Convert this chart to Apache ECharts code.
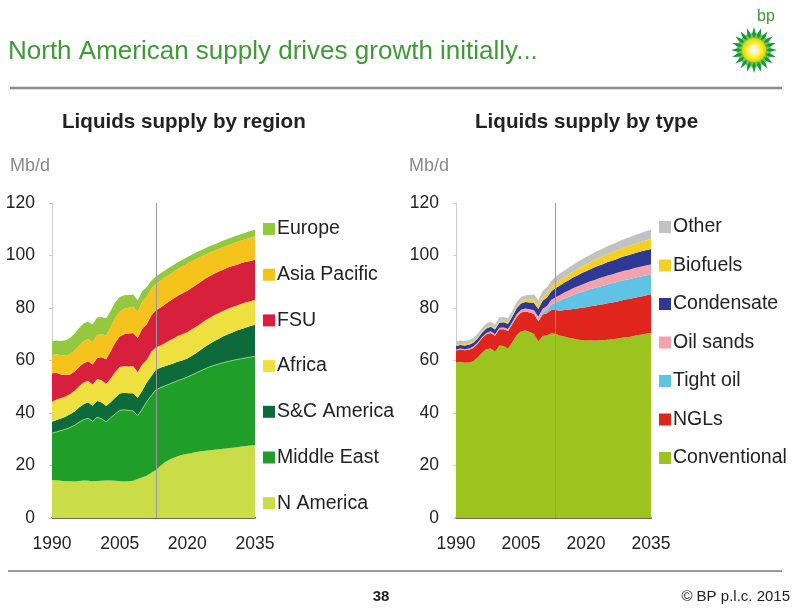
<!DOCTYPE html>
<html>
<head>
<meta charset="utf-8">
<script src="https://cdn.jsdelivr.net/npm/echarts@6.0.0/dist/echarts.min.js"></script>
<style>
  html, body { margin: 0; padding: 0; background: #ffffff; }
  #chart { width: 795px; height: 608px; }
</style>
</head>
<body>
<div id="chart"></div>
<script>
// Years 1990-2013 are history, 2014-2035 the outlook
const years = ['1990','1991','1992','1993','1994','1995','1996','1997','1998','1999',
  '2000','2001','2002','2003','2004','2005','2006','2007','2008','2009',
  '2010','2011','2012','2013','2014','2015','2016','2017','2018','2019',
  '2020','2021','2022','2023','2024','2025','2026','2027','2028','2029',
  '2030','2031','2032','2033','2034','2035'];
const xTickYears = ['1990', '2005', '2020', '2035'];
const outlookStart = '2013';

// Liquids supply by region, Mb/d
const nAmerica = [14.5,14.4,14.2,14.0,14.0,13.9,14.1,14.3,14.2,14.0,14.1,14.2,14.3,14.3,14.2,14.0,13.9,14.0,14.2,14.9,15.5,16.1,17.2,18.3,
  19.8,21.2,22.2,23.0,23.6,24.1,24.5,24.8,25.1,25.4,25.6,25.8,26.0,26.2,26.4,26.6,26.8,27.0,27.2,27.4,27.6,27.8];
const middleEast = [17.8,18.4,19.1,19.8,20.5,21.4,22.4,23.1,23.8,22.8,24.3,23.6,22.3,23.9,25.4,27.0,27.3,27.0,26.6,24.1,26.0,28.2,29.4,30.5,
  29.8,29.1,28.8,28.7,28.8,28.9,29.2,29.7,30.2,30.7,31.3,31.8,32.2,32.5,32.8,33.0,33.2,33.4,33.5,33.6,33.7,33.8];
const scAmerica = [4.4,4.5,4.6,4.8,5.0,5.3,5.6,5.9,6.1,6.0,6.2,6.2,6.1,5.9,6.2,6.4,6.5,6.5,6.7,6.8,7.0,7.3,7.4,7.6,
  7.6,7.5,7.4,7.3,7.2,7.1,7.1,7.3,7.6,8.0,8.4,8.8,9.2,9.6,10.0,10.4,10.7,11.0,11.3,11.6,11.8,12.0];
const africa = [7.6,7.8,7.8,7.7,7.7,7.9,8.1,8.3,8.2,8.1,8.4,8.5,8.4,9.0,9.8,10.1,10.2,10.2,10.3,9.8,10.1,8.6,9.3,8.6,
  8.5,8.8,9.2,9.5,9.8,10.0,10.1,10.1,10.1,10.0,10.0,9.9,9.9,9.8,9.8,9.7,9.7,9.6,9.6,9.6,9.5,9.5];
const fsu = [10.8,10.2,9.0,8.2,7.5,7.3,7.3,7.4,7.4,7.6,8.0,8.7,9.4,10.4,11.2,11.6,12.1,12.6,12.7,13.0,13.5,13.6,13.8,14.1,
  14.4,14.7,15.0,15.2,15.4,15.6,15.7,15.8,15.9,15.9,15.9,15.9,15.8,15.8,15.7,15.7,15.6,15.5,15.5,15.4,15.3,15.3];
const asiaPacific = [7.0,7.1,7.3,7.5,7.7,8.0,8.2,8.4,8.5,8.5,8.7,8.8,9.0,9.2,9.4,9.5,9.7,9.8,10.0,10.1,10.4,10.5,10.2,10.0,
  10.2,10.3,10.1,10.2,10.1,10.3,10.3,10.1,9.8,9.5,9.1,8.9,8.7,8.6,8.5,8.5,8.5,8.6,8.6,8.7,8.9,8.9];
const europe = [5.1,5.2,5.4,5.7,6.2,6.4,6.7,6.7,6.6,6.7,6.7,6.6,6.6,6.3,6.0,5.6,5.2,4.9,4.6,4.3,4.0,3.6,3.1,2.8,
  2.8,2.7,2.7,2.6,2.6,2.5,2.5,2.5,2.5,2.5,2.5,2.5,2.5,2.5,2.5,2.5,2.5,2.5,2.5,2.5,2.5,2.5];

// Liquids supply by type, Mb/d
const conventional = [59.2,59.5,59.1,59.2,59.7,61.1,63.0,64.3,64.6,63.4,65.7,65.5,64.6,67.0,69.6,71.1,71.4,70.9,70.1,67.2,69.3,69.5,70.4,70.1,
  69.4,69.1,68.7,68.4,68.0,67.8,67.6,67.7,67.6,67.7,67.7,67.9,68.1,68.3,68.6,68.9,69.0,69.3,69.7,69.9,70.3,70.6];
const ngls = [4.6,4.7,4.8,4.9,5.1,5.3,5.5,5.7,5.9,6.0,6.2,6.4,6.6,6.8,7.0,7.2,7.3,7.4,7.6,7.8,8.2,8.5,8.8,9.1,
  9.6,10.1,10.6,11.2,11.8,12.3,12.7,13.0,13.3,13.5,13.7,13.9,14.0,14.1,14.2,14.3,14.4,14.5,14.5,14.6,14.6,14.6];
const tightOil = [0,0,0,0,0,0,0,0,0,0,0,0,0,0,0,0,0,0,0.2,0.4,0.7,1.2,2.1,2.9,
  3.8,4.4,4.9,5.3,5.7,6.0,6.3,6.5,6.7,6.9,7.1,7.2,7.3,7.4,7.5,7.5,7.6,7.6,7.6,7.6,7.6,7.6];
const oilSands = [0.4,0.4,0.4,0.5,0.5,0.5,0.5,0.5,0.6,0.6,0.6,0.7,0.8,0.9,1.0,1.0,1.1,1.2,1.2,1.3,1.5,1.6,1.8,2.0,
  2.2,2.3,2.5,2.6,2.7,2.8,2.9,3.0,3.1,3.2,3.3,3.4,3.4,3.5,3.5,3.6,3.6,3.7,3.7,3.8,3.8,3.8];
const condensate = [1.3,1.3,1.4,1.4,1.5,1.5,1.6,1.7,1.8,1.8,1.9,2.0,2.0,2.1,2.3,2.4,2.5,2.6,2.8,2.9,3.1,3.2,3.3,3.5,
  3.6,3.8,3.9,4.1,4.2,4.4,4.5,4.6,4.8,4.9,5.0,5.1,5.2,5.3,5.4,5.5,5.6,5.7,5.7,5.8,5.8,5.9];
const biofuels = [0.4,0.4,0.4,0.4,0.4,0.4,0.4,0.4,0.4,0.4,0.4,0.4,0.5,0.5,0.6,0.7,0.8,1.0,1.3,1.4,1.6,1.7,1.7,1.9,
  2.0,2.1,2.2,2.3,2.4,2.5,2.6,2.7,2.8,2.9,3.0,3.1,3.2,3.3,3.3,3.4,3.5,3.5,3.6,3.7,3.7,3.8];
const other = [1.3,1.3,1.3,1.3,1.4,1.4,1.4,1.5,1.5,1.5,1.6,1.6,1.6,1.7,1.7,1.8,1.8,1.9,1.9,2.0,2.1,2.2,2.3,2.4,
  2.5,2.5,2.6,2.6,2.7,2.7,2.8,2.8,2.9,2.9,3.0,3.0,3.1,3.1,3.2,3.2,3.3,3.3,3.4,3.4,3.5,3.5];

const FONT = '"Liberation Sans", Arial, Helvetica, sans-serif';
const TEXT = '#222222';

// bottom-to-top stacking order
const regionSeries = [
  { name: 'N America',    data: nAmerica,    color: '#cadc48' },
  { name: 'Middle East',  data: middleEast,  color: '#1f9e2a', edge: '#8ad27a' },
  { name: 'S&C America',  data: scAmerica,   color: '#0d6b3b' },
  { name: 'Africa',       data: africa,      color: '#eee03e' },
  { name: 'FSU',          data: fsu,         color: '#d81f3c' },
  { name: 'Asia Pacific', data: asiaPacific, color: '#f6c31c' },
  { name: 'Europe',       data: europe,      color: '#95c93d' }
];
const typeSeries = [
  { name: 'Conventional', data: conventional, color: '#9bc41e' },
  { name: 'NGLs',         data: ngls,         color: '#e0251c' },
  { name: 'Tight oil',    data: tightOil,     color: '#5ec3e4' },
  { name: 'Oil sands',    data: oilSands,     color: '#f4a3ad' },
  { name: 'Condensate',   data: condensate,   color: '#2e3895' },
  { name: 'Biofuels',     data: biofuels,     color: '#f3d021' },
  { name: 'Other',        data: other,        color: '#c2c2c2' }
];

function buildStack(list, stack, axis) {
  return list.map(function (s, i) {
    const out = {
      name: s.name, type: 'line', stack: stack,
      xAxisIndex: axis, yAxisIndex: axis,
      data: s.data, symbol: 'none', showSymbol: false, silent: true,
      lineStyle: s.edge ? { width: 1, color: s.edge } : { width: 0 },
      itemStyle: { color: s.color },
      areaStyle: { color: s.color, opacity: 1 },
      emphasis: { disabled: true }
    };
    if (i === 0) {
      out.markLine = {
        silent: true, symbol: ['none', 'none'], label: { show: false },
        lineStyle: { color: '#9a9a9a', width: 1, type: 'solid' },
        data: [{ xAxis: outlookStart }]
      };
    }
    return out;
  });
}

function xAxisFor(grid) {
  return {
    type: 'category', gridIndex: grid, data: years, boundaryGap: false,
    axisLine: { lineStyle: { color: '#6e6b55', width: 2 } },
    axisTick: { show: false },
    axisLabel: {
      interval: function (idx, val) { return xTickYears.indexOf(val) >= 0; },
      fontFamily: FONT, fontSize: 17.5, color: TEXT, margin: 17
    },
    splitLine: { show: false }
  };
}
function yAxisFor(grid) {
  return {
    type: 'value', gridIndex: grid, min: 0, max: 120, interval: 20,
    axisLine: { show: true, lineStyle: { color: '#cfcfcf', width: 1 } },
    axisTick: { show: true, length: 3, lineStyle: { color: '#cfcfcf' } },
    axisLabel: { fontFamily: FONT, fontSize: 17.5, color: TEXT, margin: 17 },
    splitLine: { show: false }
  };
}

function legendFor(list, left, top, gap) {
  return {
    orient: 'vertical', left: left, top: top, itemGap: gap,
    itemWidth: 12, itemHeight: 12, icon: 'rect', selectedMode: false,
    data: list.slice().reverse().map(function (s) { return s.name; }),
    textStyle: { fontFamily: FONT, fontSize: 19.5, color: TEXT, padding: [0, 0, 0, -3] }
  };
}

// bp helios mark
function starPoints(cx, cy, R, r, n, rot) {
  const pts = [];
  for (let k = 0; k < n * 2; k++) {
    const a = rot + Math.PI * k / n;
    const rad = k % 2 === 0 ? R : r;
    pts.push([cx + rad * Math.sin(a), cy - rad * Math.cos(a)]);
  }
  return pts;
}
const LX = 754, LY = 50;

const option = {
  animation: false,
  backgroundColor: '#ffffff',
  grid: [
    { left: 52, top: 203, width: 203, height: 315 },
    { left: 456, top: 203, width: 195, height: 315 }
  ],
  xAxis: [xAxisFor(0), xAxisFor(1)],
  yAxis: [yAxisFor(0), yAxisFor(1)],
  legend: [
    legendFor(regionSeries, 258, 214, 25.7),
    legendFor(typeSeries, 654, 212, 18.5)
  ],
  series: buildStack(regionSeries, 'region', 0).concat(buildStack(typeSeries, 'type', 1)),
  graphic: [
    { type: 'text', x: 8, y: 52, style: { text: 'North American supply drives growth initially...', font: '26px ' + FONT, fill: '#3e9b35', textVerticalAlign: 'middle' } },
    { type: 'line', shape: { x1: 10, y1: 88, x2: 782, y2: 88 }, style: { stroke: '#8e8e8e', lineWidth: 2.5 } },
    { type: 'text', x: 62, y: 122, style: { text: 'Liquids supply by region', font: 'bold 20.6px ' + FONT, fill: TEXT, textVerticalAlign: 'middle' } },
    { type: 'text', x: 475, y: 122, style: { text: 'Liquids supply by type', font: 'bold 20.6px ' + FONT, fill: TEXT, textVerticalAlign: 'middle' } },
    { type: 'text', x: 10, y: 166, style: { text: 'Mb/d', font: '18px ' + FONT, fill: '#8a8a8a', textVerticalAlign: 'middle' } },
    { type: 'text', x: 409, y: 166, style: { text: 'Mb/d', font: '18px ' + FONT, fill: '#8a8a8a', textVerticalAlign: 'middle' } },
    { type: 'line', shape: { x1: 8, y1: 571, x2: 782, y2: 571 }, style: { stroke: '#9a9a9a', lineWidth: 2 } },
    { type: 'text', x: 381, y: 597, style: { text: '38', font: 'bold 15px ' + FONT, fill: TEXT, textAlign: 'center', textVerticalAlign: 'middle' } },
    { type: 'text', x: 790, y: 597, style: { text: '© BP p.l.c. 2015', font: '15px ' + FONT, fill: TEXT, textAlign: 'right', textVerticalAlign: 'middle' } },
    { type: 'polygon', shape: { points: starPoints(LX, LY, 23, 15, 20, 0) }, style: { fill: '#0f9b3e' } },
    { type: 'polygon', shape: { points: starPoints(LX, LY, 18, 12, 20, Math.PI / 20) }, style: { fill: '#7fc242' } },
    { type: 'circle', shape: { cx: LX, cy: LY, r: 12 }, style: {
        fill: { type: 'radial', x: 0.5, y: 0.5, r: 0.5, colorStops: [
          { offset: 0, color: '#ffffff' }, { offset: 0.4, color: '#fff6a0' },
          { offset: 0.75, color: '#ffe600' }, { offset: 1, color: '#c5d52c' }] } } },
    { type: 'text', x: 766, y: 17, style: { text: 'bp', font: '16px ' + FONT, fill: '#3a9a2f', textAlign: 'center', textVerticalAlign: 'middle' } }
  ]
};

const chart = echarts.init(document.getElementById('chart'), null, { renderer: 'canvas' });
chart.setOption(option);
</script>
</body>
</html>
